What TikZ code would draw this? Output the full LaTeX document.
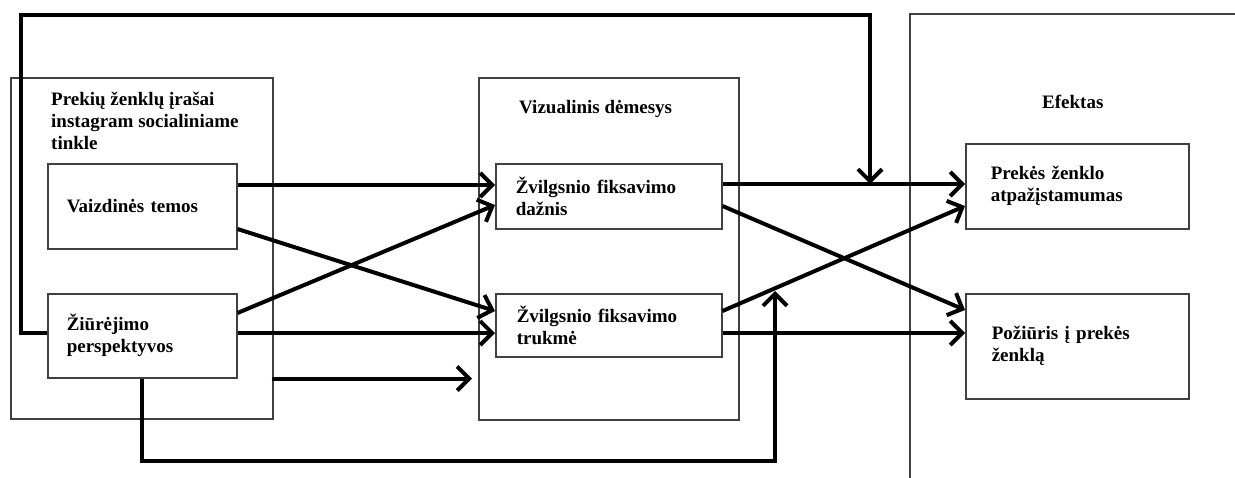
\documentclass[tikz,border=0pt]{standalone}
\usepackage{fontspec}
\setmainfont{Liberation Serif}
\usetikzlibrary{arrows.meta}

\tikzset{
    txt/.style={font=\bfseries\fontsize{19}{22}\selectfont},
    frame/.style={draw=black!75, line width=1.5pt, rectangle, anchor=north west, inner sep=0pt},
    box/.style={frame, txt, align=left, inner ysep=0pt},
    caption/.style={txt, align=left, inner sep=0pt},
    arr/.style={line width=4pt, -{Straight Barb[length=12pt,width=24pt]}},
}

\begin{document}
\begin{tikzpicture}[x=1pt, y=-1pt]
    \useasboundingbox (0,0) rectangle (1235,477);

    \node[frame, minimum width=262, minimum height=341] (posts) at (10,77) {};
    \node[frame, minimum width=260, minimum height=342] (attn) at (478,77) {};
    \node[frame, minimum width=340, minimum height=480] (effect) at (909,13) {};

    \node[caption, anchor=north west] (poststitle) at ([xshift=41pt,yshift=-15pt]posts.north west) {Prekių ženklų įrašai\\instagram socialiniame\\tinkle};
    \node[caption, anchor=base west] (attntitle) at ([xshift=41pt,yshift=-36pt]attn.north west) {Vizualinis dėmesys};
    \node[caption, anchor=base west] (effecttitle) at ([xshift=133pt,yshift=-95pt]effect.north west) {Efektas};

    \node[box, minimum width=189, minimum height=85, inner xsep=19pt, text width=151pt] (vaiz) at (47,163) {Vaizdinės temos};
    \node[box, minimum width=189, minimum height=84, inner xsep=19pt, text width=151pt] (ziur) at (47,293) {Žiūrėjimo\\perspektyvos};
    \node[box, minimum width=226, minimum height=65, inner xsep=20pt, text width=186pt] (dazn) at (495,163) {Žvilgsnio fiksavimo\\dažnis};
    \node[box, minimum width=226, minimum height=63, inner xsep=21pt, text width=184pt] (truk) at (495,293) {Žvilgsnio fiksavimo\\trukmė};
    \node[box, minimum width=223, minimum height=85, inner xsep=25pt, text width=173pt] (prek) at (965,143) {Prekės ženklo\\atpažįstamumas};
    \node[box, minimum width=223, minimum height=105, inner xsep=26pt, text width=171pt] (poz) at (965,293) {Požiūris į prekės\\ženklą};

    \draw[arr] ([yshift=-22pt]vaiz.north east) -- ([yshift=-22pt]dazn.north west);
    \draw[arr] ([yshift=-66pt]vaiz.north east) -- ([yshift=-18pt]truk.north west);
    \draw[arr] ([yshift=-20pt]ziur.north east) -- ([yshift=-42pt]dazn.north west);
    \draw[arr] ([yshift=-40pt]ziur.north east) -- ([yshift=-40pt]truk.north west);
    \draw[arr] ([xshift=-2pt]posts.east |- ziur.south) -- ([xshift=-6pt]attn.west |- ziur.south);

    \draw[arr] ([yshift=-21pt]dazn.north east) -- ([yshift=-41pt]prek.north west);
    \draw[arr] ([yshift=-43pt]dazn.north east) -- ([yshift=-17pt]poz.north west);
    \draw[arr] ([yshift=-18pt]truk.north east) -- ([yshift=-63pt]prek.north west);
    \draw[arr] ([yshift=-40pt]truk.north east) -- ([yshift=-40pt]poz.north west);

    \coordinate (topleft) at (21,15);
    \coordinate (meet1) at (870,184);
    \coordinate (botright) at (775,461);
    \coordinate (meet2) at (775,291);
    \draw[arr] ([yshift=3pt]ziur.west) -| (topleft) -- (meet1 |- topleft) -- (meet1);
    \draw[arr] (ziur.south) |- (botright) -- (meet2);
\end{tikzpicture}
\end{document}
